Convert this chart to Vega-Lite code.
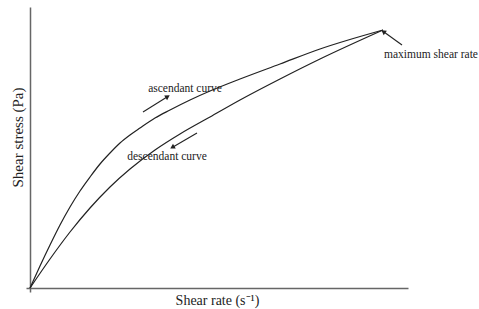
{
  "$schema": "https://vega.github.io/schema/vega-lite/v6.json",
  "autosize": "none",
  "width": 382,
  "height": 285,
  "padding": {"left": 26, "top": 7, "right": 71, "bottom": 17},
  "background": "white",
  "config": {"view": {"stroke": null}, "font": "Liberation Serif"},
  "datasets": {
    "curves": [
      {"curve": "ascendant", "rate": 0, "stress": 0},
      {"curve": "ascendant", "rate": 10, "stress": 22},
      {"curve": "ascendant", "rate": 20, "stress": 43},
      {"curve": "ascendant", "rate": 30, "stress": 63},
      {"curve": "ascendant", "rate": 40, "stress": 81},
      {"curve": "ascendant", "rate": 50, "stress": 97},
      {"curve": "ascendant", "rate": 60, "stress": 111},
      {"curve": "ascendant", "rate": 70, "stress": 124},
      {"curve": "ascendant", "rate": 80, "stress": 135},
      {"curve": "ascendant", "rate": 90, "stress": 145},
      {"curve": "ascendant", "rate": 100, "stress": 153},
      {"curve": "ascendant", "rate": 110, "stress": 160},
      {"curve": "ascendant", "rate": 125, "stress": 170},
      {"curve": "ascendant", "rate": 140, "stress": 178},
      {"curve": "ascendant", "rate": 160, "stress": 188},
      {"curve": "ascendant", "rate": 180, "stress": 197},
      {"curve": "ascendant", "rate": 210, "stress": 209},
      {"curve": "ascendant", "rate": 250, "stress": 224},
      {"curve": "ascendant", "rate": 290, "stress": 239},
      {"curve": "ascendant", "rate": 353, "stress": 258},
      {"curve": "descendant", "rate": 0, "stress": 0},
      {"curve": "descendant", "rate": 20, "stress": 29},
      {"curve": "descendant", "rate": 40, "stress": 56},
      {"curve": "descendant", "rate": 60, "stress": 80},
      {"curve": "descendant", "rate": 80, "stress": 101},
      {"curve": "descendant", "rate": 100, "stress": 119},
      {"curve": "descendant", "rate": 125, "stress": 138},
      {"curve": "descendant", "rate": 150, "stress": 154},
      {"curve": "descendant", "rate": 180, "stress": 171},
      {"curve": "descendant", "rate": 210, "stress": 188},
      {"curve": "descendant", "rate": 250, "stress": 209},
      {"curve": "descendant", "rate": 290, "stress": 229},
      {"curve": "descendant", "rate": 353, "stress": 258}
    ],
    "arrows": [
      {"name": "asc", "x": 113, "y": 176, "x2": 137, "y2": 191},
      {"name": "desc", "x": 167, "y": 155, "x2": 143, "y2": 141},
      {"name": "max", "x": 372, "y": 243, "x2": 354, "y2": 256}
    ],
    "labels": [
      {"text": "ascendant curve", "x": 155, "y": 199},
      {"text": "descendant curve", "x": 137, "y": 131},
      {"text": "maximum shear rate", "x": 401, "y": 233}
    ]
  },
  "layer": [
    {
      "data": {"name": "curves"},
      "mark": {"type": "line", "interpolate": "monotone", "strokeWidth": 1.2, "clip": false},
      "encoding": {
        "x": {
          "field": "rate", "type": "quantitative",
          "scale": {"domain": [-4, 378], "nice": false, "zero": false},
          "axis": {
            "title": "Shear rate (s⁻¹)", "offset": -4, "ticks": false, "labels": false, "grid": false,
            "domainColor": "#666666", "domainWidth": 1.5,
            "titleFont": "Liberation Serif", "titleFontSize": 14, "titleFontWeight": "normal",
            "titleColor": "#222222", "titlePadding": 5
          }
        },
        "y": {
          "field": "stress", "type": "quantitative",
          "scale": {"domain": [-4, 281], "nice": false, "zero": false},
          "axis": {
            "title": "Shear stress (Pa)", "offset": -4, "ticks": false, "labels": false, "grid": false,
            "domainColor": "#666666", "domainWidth": 1.5,
            "titleFont": "Liberation Serif", "titleFontSize": 15, "titleFontWeight": "normal",
            "titleColor": "#222222", "titlePadding": 5, "titleY": 130
          }
        },
        "detail": {"field": "curve"},
        "color": {"value": "#222222"}
      }
    },
    {
      "data": {"name": "arrows"},
      "mark": {"type": "rule", "color": "#222222", "strokeWidth": 1.1},
      "encoding": {
        "x": {"field": "x", "type": "quantitative"},
        "y": {"field": "y", "type": "quantitative"},
        "x2": {"field": "x2"},
        "y2": {"field": "y2"}
      }
    },
    {
      "data": {"name": "arrows"},
      "transform": [{"filter": "datum.name === 'asc'"}],
      "mark": {"type": "point", "shape": "triangle", "filled": true, "size": 30, "angle": 58, "color": "#222222", "opacity": 1},
      "encoding": {
        "x": {"field": "x2", "type": "quantitative"},
        "y": {"field": "y2", "type": "quantitative"}
      }
    },
    {
      "data": {"name": "arrows"},
      "transform": [{"filter": "datum.name === 'desc'"}],
      "mark": {"type": "point", "shape": "triangle", "filled": true, "size": 30, "angle": 240, "color": "#222222", "opacity": 1},
      "encoding": {
        "x": {"field": "x2", "type": "quantitative"},
        "y": {"field": "y2", "type": "quantitative"}
      }
    },
    {
      "data": {"name": "arrows"},
      "transform": [{"filter": "datum.name === 'max'"}],
      "mark": {"type": "point", "shape": "triangle", "filled": true, "size": 30, "angle": 306, "color": "#222222", "opacity": 1},
      "encoding": {
        "x": {"field": "x2", "type": "quantitative"},
        "y": {"field": "y2", "type": "quantitative"}
      }
    },
    {
      "data": {"name": "labels"},
      "mark": {"type": "text", "font": "Liberation Serif", "fontSize": 11.5, "color": "#222222", "align": "center", "baseline": "middle"},
      "encoding": {
        "x": {"field": "x", "type": "quantitative"},
        "y": {"field": "y", "type": "quantitative"},
        "text": {"field": "text"}
      }
    }
  ]
}
